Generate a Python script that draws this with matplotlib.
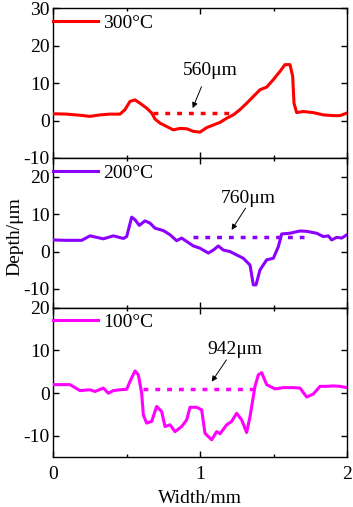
import matplotlib
matplotlib.use("Agg")
import matplotlib.pyplot as plt
from matplotlib.ticker import MultipleLocator

plt.rcParams['font.family'] = ['Liberation Serif', 'DejaVu Serif']
plt.rcParams['axes.unicode_minus'] = False

# pixel-read data converted to mm / um
def mm(px):
    return [(p - 159) / 441 for p in px]

x300 = mm([159, 200, 240, 270, 300, 330, 360, 375, 390, 405, 420, 440, 455, 465, 480, 500, 520, 540, 560, 580,
           600, 620, 640, 660, 680, 700, 720, 740, 760, 780, 800, 820, 840, 855, 870, 878, 882, 890, 910, 940,
           970, 1000, 1020, 1041])
y300 = [1.8, 1.7, 1.4, 1.1, 1.5, 1.7, 1.7, 2.9, 5.1, 5.5, 4.6, 3.3, 2.0, 0.4, -0.7, -1.6, -2.5, -2.1, -2.2, -2.9,
        -3.1, -1.9, -1.2, -0.5, 0.6, 1.5, 2.9, 4.6, 6.4, 8.2, 8.9, 10.9, 13.1, 14.9, 14.9, 11.8, 4.6, 2.1, 2.4, 2.1,
        1.5, 1.3, 1.3, 2.0]

x200 = mm([159, 200, 245, 270, 310, 340, 370, 380, 395, 405, 418, 435, 450, 465, 490, 510, 530, 545, 560, 580,
           600, 625, 640, 655, 670, 690, 710, 730, 750, 760, 768, 780, 800, 820, 835, 845, 870, 900, 920, 950,
           970, 985, 995, 1010, 1025, 1041])
y200 = [3.1, 3.0, 3.0, 4.2, 3.4, 4.2, 3.5, 4.0, 9.2, 8.5, 7.0, 8.2, 7.6, 6.25, 5.6, 4.5, 2.9, 3.6, 2.7, 1.5,
        0.9, -0.4, 0.4, 1.5, 0.4, 0.0, -0.9, -1.8, -3.6, -8.9, -8.9, -4.9, -2.2, -1.8, 1.3, 4.7, 4.9, 5.5, 5.4, 4.9,
        4.0, 4.2, 3.1, 3.8, 3.6, 4.5]

x100 = mm([159, 210, 240, 270, 285, 310, 325, 340, 360, 380, 392, 405, 415, 425, 430, 440, 455, 470, 485, 495,
           510, 525, 545, 560, 570, 590, 605, 615, 635, 650, 660, 680, 695, 710, 725, 740, 750, 765, 775, 785,
           800, 825, 850, 880, 900, 920, 940, 960, 980, 1000, 1020, 1041])
y100 = [2.0, 2.0, 0.6, 0.8, 0.4, 1.2, 0.0, 0.6, 0.8, 0.9, 3.1, 5.2, 4.3, 0.0, -5.1, -7.0, -6.6, -3.1, -4.3, -7.8,
        -7.4, -9.0, -7.8, -6.25, -3.3, -3.3, -3.9, -9.4, -10.9, -9.0, -9.5, -7.4, -6.6, -4.7, -6.25, -9.2, -5.5, 1.6, 4.3, 4.8,
        2.0, 1.0, 1.3, 1.3, 1.2, -0.9, -0.2, 1.6, 1.6, 1.7, 1.6, 1.3]

labels = ['300°C', '200°C', '100°C']
colors = ['#FF0000', '#8B00FF', '#FF00FF']
widths = ['560μm', '760μm', '942μm']
dot_x = [(0.68, 1.24), (0.95, 1.71), (0.61, 1.37)]
dot_y = [2.0, 3.8, 0.9]
text_xy = [(1.07, 13.3), (1.33, 14.1), (1.24, 10.2)]
arrow_start = [(1.01, 9.0), (1.31, 11.6), (1.18, 7.8)]
arrow_end = [(0.95, 3.3), (1.215, 5.8), (1.08, 2.7)]
ylims = [(-10, 30), (-15, 25), (-15, 20)]

W, H = 353, 507
fig = plt.figure(figsize=(W / 100, H / 100), dpi=100)
left = 53 / W
width = (347 - 53) / W
tops = [8, 158, 307.7]
bottoms = [158, 307.7, 457.3]
xs = [x300, x200, x100]
ys = [y300, y200, y100]
FS = 14
axes = []
for i in range(3):
    ax = fig.add_axes([left, 1 - bottoms[i] / H, width, (bottoms[i] - tops[i]) / H])
    axes.append(ax)
    ax.plot([dot_x[i][0], dot_x[i][1]], [dot_y[i]] * 2, linestyle=(0, (1.4, 2.0)), color=colors[i], lw=2.5, zorder=2)
    ax.plot(xs[i], ys[i], color=colors[i], lw=2.2, label=labels[i], zorder=3)
    ax.set_xlim(0, 2)
    ax.set_ylim(*ylims[i])
    ax.xaxis.set_major_locator(MultipleLocator(1))
    ax.xaxis.set_minor_locator(MultipleLocator(0.5))
    ax.yaxis.set_major_locator(MultipleLocator(10))
    ax.tick_params(which='both', direction='in', top=True, right=True, labelsize=FS, pad=2.5)
    ax.tick_params(which='major', length=4, width=1)
    ax.tick_params(which='minor', length=2.5, width=1)
    for s in ax.spines.values():
        s.set_linewidth(1.0)
    if i < 2:
        ax.tick_params(labelbottom=False)
    else:
        ax.tick_params(axis='x', pad=6)
    ax.legend(loc='upper left', bbox_to_anchor=(0.0, 0.96), frameon=False, fontsize=FS, handlelength=2.3,
              borderaxespad=0.0, borderpad=0.0, handletextpad=0.3)
    ax.annotate('', xy=arrow_end[i], xytext=arrow_start[i],
                arrowprops=dict(arrowstyle='-|>', color='black', lw=0.7, mutation_scale=8,
                                shrinkA=0, shrinkB=0))
    ax.text(text_xy[i][0], text_xy[i][1], widths[i], fontsize=FS, ha='center', va='center')

axes[2].set_xlabel('Width/mm', fontsize=FS, labelpad=5)
fig.text(15 / W, 1 - 237 / H, 'Depth/μm', rotation=90, fontsize=FS, ha='center', va='center')

fig.savefig('out.png', dpi=100)
